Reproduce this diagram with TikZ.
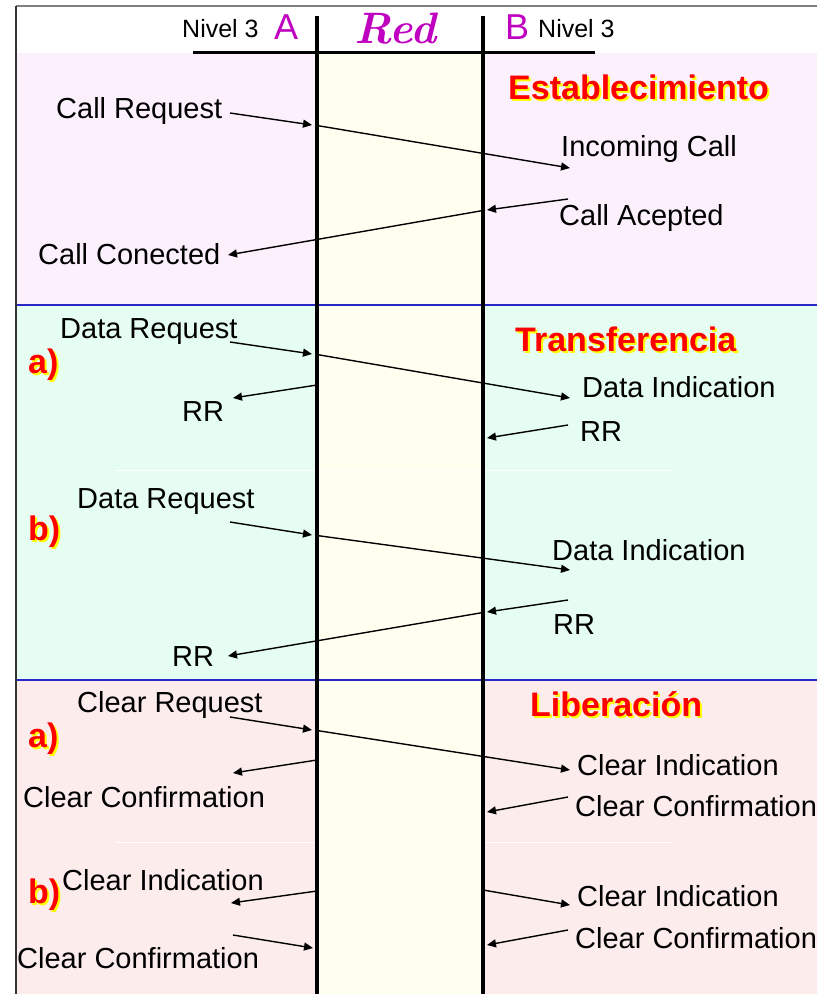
\documentclass[tikz,border=0pt]{standalone}
\usepackage{fontspec}
\usepackage{xcolor}
\usepackage{tikz}
\usetikzlibrary{arrows.meta}
\newfontfamily\arialf{Liberation Sans}
\definecolor{rosa}{HTML}{FDF0FD}
\definecolor{menta}{HTML}{E6FDF1}
\definecolor{salmon}{HTML}{FDECEC}
\definecolor{marfil}{HTML}{FFFFF0}
\definecolor{morado}{HTML}{C000C0}
\definecolor{azul}{HTML}{2828C8}
\definecolor{sombra}{HTML}{FFFF00}
\newcommand{\sombreado}[1]{\rlap{\kern2pt\raisebox{-2pt}{\color{sombra}#1}}#1}

\begin{document}
\begin{tikzpicture}[x=1pt,y=-1pt,
   every node/.style={inner sep=0pt,anchor=base west},
   msg/.style={font=\arialf\fontsize{29}{29}\selectfont},
   nivel/.style={font=\arialf\fontsize{25}{25}\selectfont},
   letra/.style={text=morado,font=\arialf\fontsize{36}{36}\selectfont},
   titulo/.style={text=red,font=\arialf\bfseries\fontsize{34}{34}\selectfont},
   vida/.style={line width=3.5pt},
   flecha/.style={line width=1.4pt,-{Triangle[length=9pt,width=8pt]}}]
   \useasboundingbox (0,0) rectangle (817,994);
   \fill[white] (0,0) rectangle (817,994);
   \fill[rosa] (16,53) rectangle (817,305);
   \fill[menta] (16,305) rectangle (817,680);
   \fill[salmon] (16,680) rectangle (817,994);
   \fill[marfil] (317,53) rectangle (483,994);
   \draw[white,line width=1pt] (115,470) -- (672,470);
   \draw[white,line width=1pt] (115,842) -- (672,842);
   \draw[azul,line width=2pt] (16,305) -- (817,305);
   \draw[azul,line width=2pt] (16,680) -- (817,680);
   \draw[gray,line width=2pt] (16,6) -- (817,6);
   \draw[black!80,line width=2pt] (16,6) -- (16,994);
   \draw[line width=3pt] (193,52) -- (595,52);
   \coordinate (topA) at (317,16); \coordinate (botA) at (317,994);
   \coordinate (topB) at (483,16); \coordinate (botB) at (483,994);
   \draw[vida] (topA) -- (botA);
   \draw[vida] (topB) -- (botB);
   \node[nivel] (nivA) at (182,37) {Nivel 3};
   \node[letra] (ladoA) at (274,39) {A};
   \node[text=morado,font=\bfseries\itshape\fontsize{44}{44}\selectfont] (red) at (354,43) {Red};
   \node[letra] (ladoB) at (505,39) {B};
   \node[nivel] (nivB) at (538,37) {Nivel 3};

   \node[titulo] (est) at (508,99) {\sombreado{Establecimiento}};
   \node[msg] (callreq) at (56,118) {Call Request};
   \node[msg] (incall) at (561,156) {Incoming Call};
   \node[msg] (callacep) at (559,225) {Call Acepted};
   \node[msg] (callcon) at (38,264) {Call Conected};
   \path (230,113) coordinate (cr0) (312,125) coordinate (cr1) (317,125.5) coordinate (cr2) (570,168) coordinate (cr3);
   \draw[flecha] (cr0) -- (cr1);
   \draw[flecha] (cr2) -- (cr3);
   \path (568,199) coordinate (ca0) (487,210) coordinate (ca1) (483,210.5) coordinate (ca2) (228,255) coordinate (ca3);
   \draw[flecha] (ca0) -- (ca1);
   \draw[flecha] (ca2) -- (ca3);

   \node[titulo] (tra) at (515,351) {\sombreado{Transferencia}};
   \node[titulo] (ta) at (28,373) {\sombreado{a)}};
   \node[msg] (datreq) at (60,338) {Data Request};
   \node[msg] (datind) at (582,397) {Data Indication};
   \node[msg] (rrA) at (182,421) {RR};
   \node[msg] (rrB) at (580,441) {RR};
   \path (230,342) coordinate (dr0) (312,354) coordinate (dr1) (317,354.5) coordinate (dr2) (570,398) coordinate (dr3);
   \draw[flecha] (dr0) -- (dr1);
   \draw[flecha] (dr2) -- (dr3);
   \path (317,385) coordinate (ra0) (233,398) coordinate (ra1) (568,425) coordinate (rb0) (487,438) coordinate (rb1);
   \draw[flecha] (ra0) -- (ra1);
   \draw[flecha] (rb0) -- (rb1);

   \node[titulo] (tb) at (28,540) {\sombreado{b)}};
   \node[msg] (datreqb) at (77,508) {Data Request};
   \node[msg] (datindb) at (552,560) {Data Indication};
   \node[msg] (rrBb) at (553,634) {RR};
   \node[msg] (rrAb) at (172,666) {RR};
   \path (230,522) coordinate (db0) (312,535) coordinate (db1) (317,535.5) coordinate (db2) (570,570) coordinate (db3);
   \draw[flecha] (db0) -- (db1);
   \draw[flecha] (db2) -- (db3);
   \path (568,600) coordinate (rr0) (487,612) coordinate (rr1) (483,612.5) coordinate (rr2) (228,656) coordinate (rr3);
   \draw[flecha] (rr0) -- (rr1);
   \draw[flecha] (rr2) -- (rr3);

   \node[titulo] (lib) at (530,716) {\sombreado{Liberación}};
   \node[titulo] (la) at (28,747) {\sombreado{a)}};
   \node[msg] (clreq) at (77,712) {Clear Request};
   \node[msg] (clind) at (577,775) {Clear Indication};
   \node[msg] (clconA) at (23,807) {Clear Confirmation};
   \node[msg] (clconB) at (575,816) {Clear Confirmation};
   \path (230,717) coordinate (cq0) (312,730) coordinate (cq1) (317,730.5) coordinate (cq2) (570,770) coordinate (cq3);
   \draw[flecha] (cq0) -- (cq1);
   \draw[flecha] (cq2) -- (cq3);
   \path (317,760) coordinate (cc0) (233,773) coordinate (cc1) (568,797) coordinate (cd0) (487,812) coordinate (cd1);
   \draw[flecha] (cc0) -- (cc1);
   \draw[flecha] (cd0) -- (cd1);

   \node[titulo] (lb) at (28,903) {\sombreado{b)}};
   \node[msg] (clindA) at (62,890) {Clear Indication};
   \node[msg] (clindB) at (577,906) {Clear Indication};
   \node[msg] (clconAb) at (17,968) {Clear Confirmation};
   \node[msg] (clconBb) at (575,948) {Clear Confirmation};
   \path (317,891) coordinate (ci0) (231,903) coordinate (ci1) (483,890) coordinate (cj0) (570,905) coordinate (cj1);
   \draw[flecha] (ci0) -- (ci1);
   \draw[flecha] (cj0) -- (cj1);
   \path (233,935) coordinate (ck0) (313,948) coordinate (ck1) (568,930) coordinate (cl0) (487,945) coordinate (cl1);
   \draw[flecha] (ck0) -- (ck1);
   \draw[flecha] (cl0) -- (cl1);
\end{tikzpicture}
\end{document}
